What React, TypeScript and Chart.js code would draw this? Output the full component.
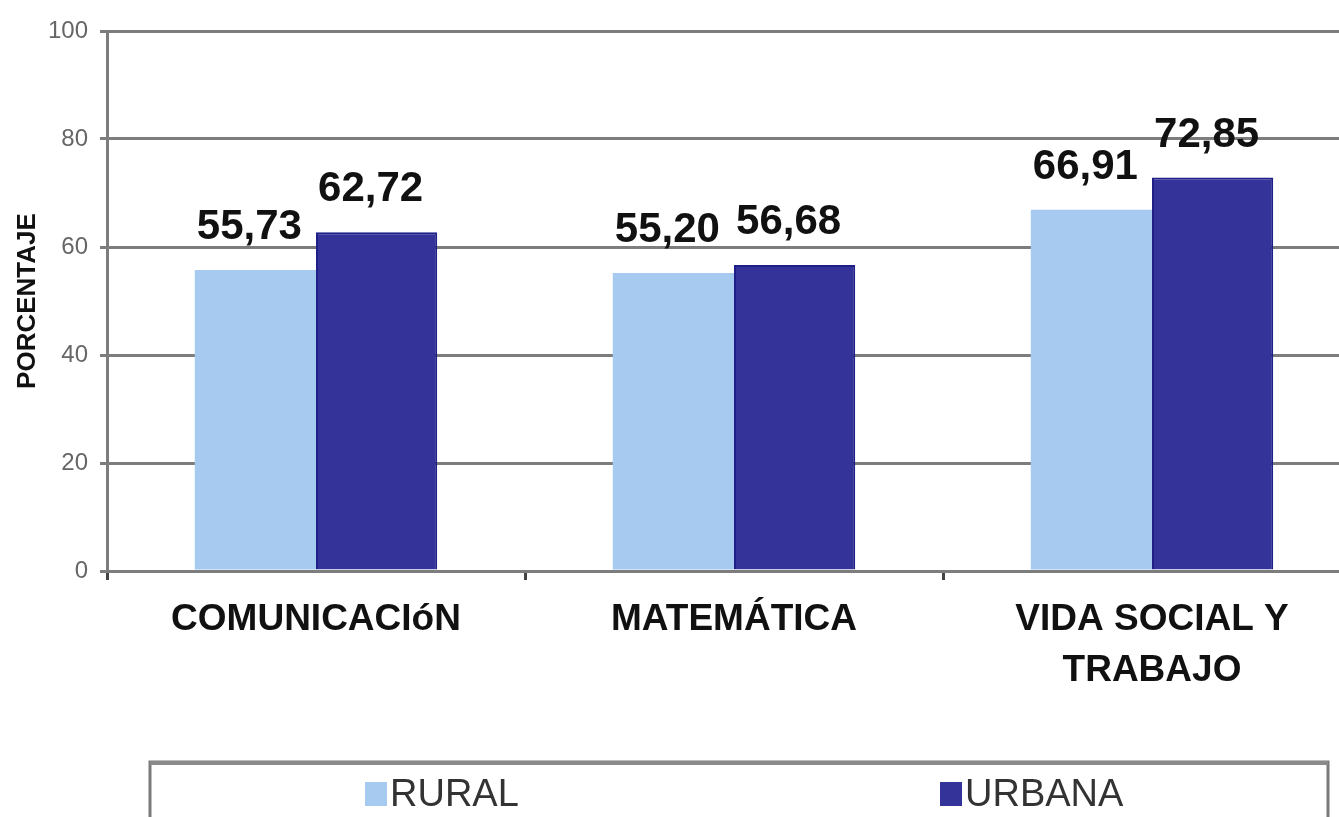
import React, { useEffect, useRef } from "react";
import { Chart, registerables } from "chart.js";

Chart.register(...registerables);

const categories: (string | string[])[] = ["COMUNICACIóN", "MATEMÁTICA", ["VIDA SOCIAL Y", "TRABAJO"]];
const seriesNames = ["RURAL", "URBANA"];
const ruralValues = [55.73, 55.2, 66.91];
const urbanaValues = [62.72, 56.68, 72.85];
const yMin = 0;
const yMax = 100;
const yStep = 20;
const yTitle = "PORCENTAJE";

const FONT = '"Liberation Sans", Arial, sans-serif';
const ruralColor = "#a6caf0";
const urbanaColor = "#333399";
const urbanaBorder = "#1f1f88";
const gridColor = "#7d7d7d";

const valueLabels = {
  id: "valueLabels",
  afterDatasetsDraw(chart: any) {
    const ctx = chart.ctx;
    ctx.save();
    ctx.font = `bold 42px ${FONT}`;
    ctx.fillStyle = "#111";
    ctx.textAlign = "center";
    ctx.textBaseline = "alphabetic";
    chart.data.datasets.forEach((ds: any, di: number) => {
      const meta = chart.getDatasetMeta(di);
      meta.data.forEach((bar: any, i: number) => {
        const v = ds.data[i] as number;
        ctx.fillText(v.toFixed(2).replace(".", ","), bar.x - 6, bar.y - 31);
      });
    });
    ctx.restore();
  },
};

const boxLegend = {
  id: "boxLegend",
  afterDraw(chart: any) {
    const ctx = chart.ctx;
    const left = 150;
    const right = 1328;
    const top = 762;
    const bottom = chart.height + 20;
    ctx.save();
    ctx.strokeStyle = "#7a7a7a";
    ctx.lineWidth = 3;
    ctx.beginPath();
    ctx.moveTo(left, bottom);
    ctx.lineTo(left, top);
    ctx.lineTo(right, top);
    ctx.lineTo(right, bottom);
    ctx.stroke();
    ctx.fillStyle = "#8a8a8a";
    ctx.fillRect(left, top - 1, right - left, 4);
    const itemX = [365, 940];
    ctx.font = `38px ${FONT}`;
    ctx.textBaseline = "alphabetic";
    ctx.textAlign = "left";
    chart.data.datasets.forEach((ds: any, i: number) => {
      const x = itemX[i];
      ctx.fillStyle = ds.backgroundColor;
      ctx.fillRect(x, 782, 22, 24);
      ctx.fillStyle = "#333";
      ctx.fillText(ds.label, x + 25, 806);
    });
    ctx.restore();
  },
};

export default function App() {
  const ref = useRef<HTMLCanvasElement | null>(null);
  useEffect(() => {
    if (!ref.current) return;
    const chart = new Chart(ref.current, {
      type: "bar",
      data: {
        labels: categories as any,
        datasets: [
          {
            label: seriesNames[0],
            data: ruralValues,
            backgroundColor: ruralColor,
            borderWidth: 0,
          },
          {
            label: seriesNames[1],
            data: urbanaValues,
            backgroundColor: urbanaColor,
            borderColor: urbanaBorder,
            borderWidth: 2,
          },
        ],
      },
      options: {
        responsive: false,
        animation: false,
        devicePixelRatio: 1,
        layout: { padding: { top: 31, right: 39, bottom: 136, left: 0 } },
        datasets: { bar: { categoryPercentage: 0.58, barPercentage: 1.0 } },
        plugins: {
          legend: { display: false },
          tooltip: { enabled: false },
        },
        scales: {
          x: {
            afterFit: (s: any) => {
              s.height = 110;
            },
            grid: {
              display: true,
              offset: true,
              drawOnChartArea: false,
              drawTicks: true,
              tickLength: 9,
              color: "#444",
              lineWidth: 3,
            },
            border: { display: true, color: gridColor, width: 3 },
            ticks: {
              color: "#111",
              padding: 15,
              font: { family: FONT, size: 37, weight: "bold", lineHeight: 1.36 },
              maxRotation: 0,
              autoSkip: false,
            },
          },
          y: {
            min: yMin,
            max: yMax,
            afterFit: (s: any) => {
              s.width = 107;
            },
            grid: {
              color: gridColor,
              lineWidth: 3,
              drawTicks: true,
              tickLength: 7,
            },
            border: { display: true, color: gridColor, width: 3 },
            ticks: {
              stepSize: yStep,
              color: "#666",
              padding: 12,
              font: { family: FONT, size: 24 },
            },
            title: {
              display: true,
              text: yTitle,
              color: "#111",
              padding: { top: 12, bottom: 0 },
              font: { family: FONT, size: 26, weight: "bold" },
            },
          },
        },
      },
      plugins: [valueLabels, boxLegend],
    });
    return () => chart.destroy();
  }, []);
  return (
    <div
      style={{
        position: "fixed",
        left: 0,
        top: 0,
        width: 1339,
        height: 817,
        overflow: "hidden",
        background: "#fff",
      }}
    >
      <canvas ref={ref} width={1400} height={817} style={{ display: "block" }} />
    </div>
  );
}
